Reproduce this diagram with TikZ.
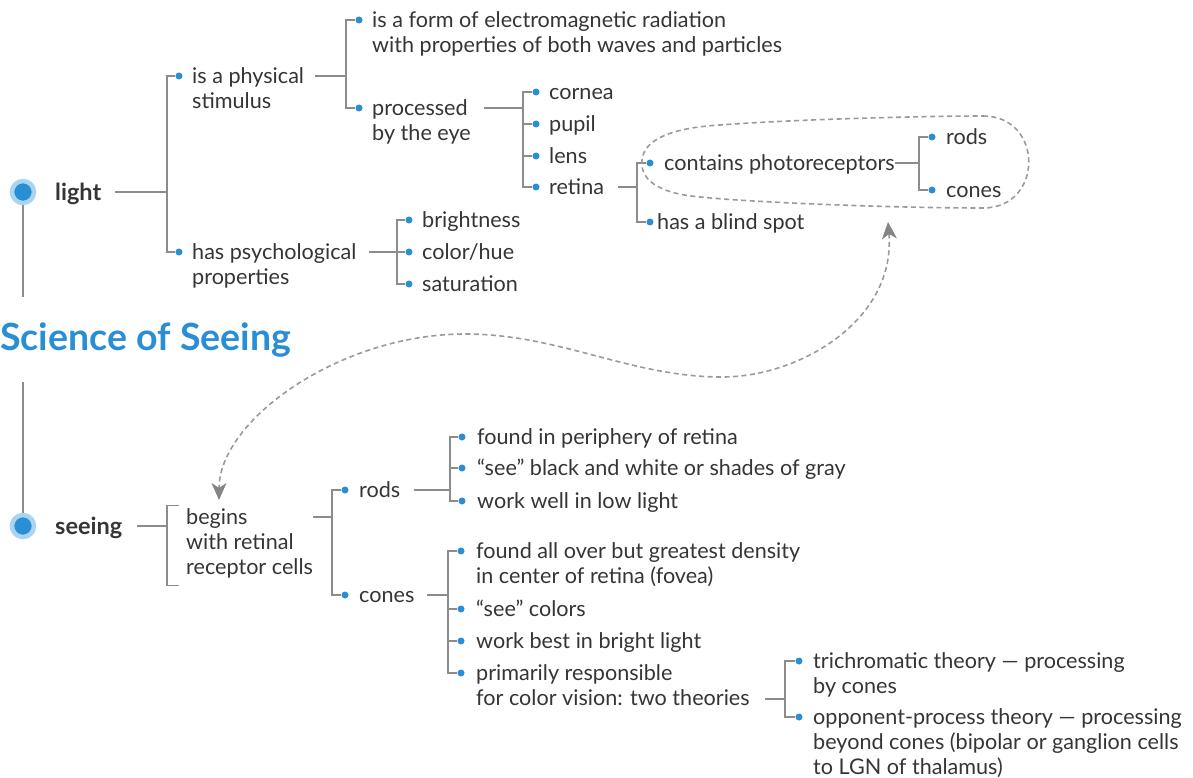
\documentclass[tikz,border=0pt]{standalone}
\usepackage{fontspec}
\setmainfont{Lato}
\usepackage{tikz}
\usetikzlibrary{arrows.meta}

\definecolor{ink}{HTML}{353535}
\definecolor{linegray}{HTML}{8C8C8C}
\definecolor{dashgray}{HTML}{9A9A9A}
\definecolor{tipgray}{HTML}{858585}
\definecolor{dotblue}{HTML}{2A8ED4}
\definecolor{paleblue}{HTML}{A9D4F2}

\tikzset{
  txt/.style={anchor=north west, inner sep=0pt, align=left, yshift=10pt,
    text=ink, font=\fontsize{21.6}{25}\selectfont, execute at begin node=\strut},
  hub/.style={txt, yshift=-1pt, font=\fontsize{23.5}{25}\selectfont\bfseries},
  title/.style={anchor=west, inner sep=0pt, minimum height=85pt, text=dotblue,
    font=\fontsize{37.5}{38}\selectfont\bfseries},
  dot/.style={circle, fill=dotblue, inner sep=0pt, minimum size=7pt},
  bigdot/.style={circle, fill=dotblue, draw=paleblue, line width=4.5pt,
    inner sep=0pt, minimum size=22pt},
  link/.style={draw=linegray, line width=1.4pt},
  hint/.style={draw=dashgray, line width=1.6pt, dash pattern=on 5pt off 3.5pt},
  seetip/.tip={Stealth[length=17pt, width=15pt, inset=5pt, color=tipgray]},
}

\begin{document}
\begin{tikzpicture}[x=1pt, y=-1pt]
  \useasboundingbox (0,0) rectangle (1193,778);

  % spine on the left
  \node[bigdot] (lightbig) at (23,192) {};
  \node[bigdot] (seeingbig) at (23,526) {};
  \node[title] (title) at (0,339.5) {Science of Seeing};
  \node[hub] (light) at (55,192) {light};
  \node[hub] (seeing) at (55,526) {seeing};
  \draw[link] (lightbig.south) -- (lightbig |- title.north);
  \draw[link] (lightbig |- title.south) -- (seeingbig.north);

  % light: first level
  \node[dot] (dphys) at (179,76) {};
  \node[txt] (phys) at (192,76) {\strut is a physical\\stimulus};
  \node[dot] (dpsy) at (179,252) {};
  \node[txt] (psy) at (192,252) {\strut has psychological\\properties};
  \coordinate (lightbar) at (167,192);
  \draw[link] (light.east |- lightbig) ++(14,0) -- (lightbar);
  \draw[link] (dphys.west) -| (lightbar) |- (dpsy.west);

  % physical stimulus
  \node[dot] (dwave) at (359,20) {};
  \node[txt] (wave) at (372,20) {\strut is a form of electromagnetic radiation\\with properties of both waves and particles};
  \node[dot] (dproc) at (359,108) {};
  \node[txt] (proc) at (372,108) {\strut processed\\by the eye};
  \coordinate (physbar) at (346,76);
  \draw[link] (phys.east |- dphys) ++(11,0) -- (physbar);
  \draw[link] (dwave.west) -| (physbar) |- (dproc.west);

  % parts of the eye
  \foreach \n/\y in {cornea/92, pupil/124, lens/156, retina/187} {
    \node[dot] (d\n) at (536,\y) {};
    \node[txt] (\n) at (549,\y) {\n};
  }
  \coordinate (eyebar) at (523,108);
  \draw[link] (proc.east |- dproc) ++(13,0) -- (eyebar);
  \draw[link] (dcornea.west) -| (eyebar) |- (dretina.west);
  \foreach \n in {pupil, lens}
    \draw[link] (eyebar |- d\n) -- (d\n.west);

  % retina
  \node[dot] (dphoto) at (650,163) {};
  \node[txt] (photo) at (664,163) {contains photoreceptors};
  \node[dot] (dblind) at (650,222) {};
  \node[txt] (blind) at (657,222) {has a blind spot};
  \coordinate (retbar) at (637,187);
  \draw[link] (retina.east |- dretina) ++(14,0) -- (retbar);
  \draw[link] (dphoto.west) -| (retbar) |- (dblind.west);

  \node[dot] (dprods) at (932,137) {};
  \node[txt] (prods) at (946,137) {rods};
  \node[dot] (dpcones) at (932,190) {};
  \node[txt] (pcones) at (946,190) {cones};
  \coordinate (photobar) at (919,163);
  \draw[link] (photo.east |- dphoto) -- (photobar);
  \draw[link] (dprods.west) -| (photobar) |- (dpcones.west);

  % psychological properties
  \foreach \n/\t/\y in {bright/brightness/220, hue/color\slash hue/252, sat/saturation/284} {
    \node[dot] (d\n) at (409,\y) {};
    \node[txt] (\n) at (422,\y) {\t};
  }
  \coordinate (psybar) at (397,252);
  \draw[link] (psy.east |- dpsy) ++(12,0) -- (psybar);
  \draw[link] (dbright.west) -| (psybar) |- (dsat.west);
  \draw[link] (psybar) -- (dhue.west);

  % seeing
  \node[txt] (begins) at (186,517) {\strut begins\\with retinal\\receptor cells};
  \coordinate (beginbar) at (167,526);
  \draw[link] (seeing.east |- seeingbig) ++(15,0) -- (beginbar);
  \draw[link] ([xshift=-7pt, yshift=1.5pt]begins.north west) -| (beginbar)
    |- ([xshift=-7pt, yshift=-3pt]begins.south west);

  \node[dot] (drods) at (345,490) {};
  \node[txt] (rods) at (359,490) {rods};
  \node[dot] (dcones) at (345,595) {};
  \node[txt] (cones) at (359,595) {cones};
  \coordinate (cellbar) at (332,517);
  \draw[link] (begins.north east) ++(0,10) -- (cellbar);
  \draw[link] (drods.west) -| (cellbar) |- (dcones.west);

  % rods
  \foreach \n/\t/\y in {rperi/found in periphery of retina/437,
                        rgray/``see'' black and white or shades of gray/468,
                        rlow/work well in low light/501} {
    \node[dot] (d\n) at (462,\y) {};
    \node[txt] (\n) at (477,\y) {\t};
  }
  \coordinate (rodbar) at (450,490);
  \draw[link] (rods.east |- drods) ++(13,0) -- (rodbar);
  \draw[link] (drperi.west) -| (rodbar) |- (drlow.west);
  \draw[link] (rodbar |- drgray) -- (drgray.west);

  % cones
  \node[dot] (dfovea) at (461,551) {};
  \node[txt] (fovea) at (476,551) {\strut found all over but greatest density\\in center of retina (fovea)};
  \node[dot] (dcolors) at (461,609) {};
  \node[txt] (colors) at (476,609) {``see'' colors};
  \node[dot] (dbest) at (461,641) {};
  \node[txt] (best) at (476,641) {work best in bright light};
  \node[dot] (dprim) at (461,673) {};
  \node[txt] (prim) at (476,673) {\strut primarily responsible\\for color vision: two theories};
  \coordinate (conebar) at (448,595);
  \draw[link] (cones.east |- dcones) ++(12,0) -- (conebar);
  \draw[link] (dfovea.west) -| (conebar) |- (dprim.west);
  \foreach \n in {colors, best}
    \draw[link] (conebar |- d\n) -- (d\n.west);

  % theories
  \node[dot] (dtri) at (799,661) {};
  \node[txt] (tri) at (813,661) {\strut trichromatic theory --- processing\\by cones};
  \node[dot] (dopp) at (799,717) {};
  \node[txt] (opp) at (813,717) {\strut opponent-process theory --- processing\\beyond cones (bipolar or ganglion cells\\to LGN of thalamus)};
  \coordinate (theorybar) at (785,699);
  \draw[link] (prim.east |- dprim) ++(15,26) -- (theorybar);
  \draw[link] (dtri.west) -| (theorybar) |- (dopp.west);

  % dashed outline and cross link
  \draw[hint] (983,116) .. controls (1044,116) and (1044,208) .. (983,208)
    .. controls (900,208) and (760,203) .. (700,197)
    .. controls (655,193) and (640,178) .. (642,160)
    .. controls (644,140) and (670,128) .. (720,125)
    .. controls (800,119) and (930,116) .. cycle;
  \coordinate (blindtip) at (888,222);
  \coordinate (begintip) at (219,500);
  \draw[hint, seetip-seetip] (blindtip) .. controls (896,320) and (800,377) .. (722,377)
    .. controls (630,377) and (560,334) .. (465,334)
    .. controls (340,334) and (219,420) .. (begintip);
\end{tikzpicture}
\end{document}
